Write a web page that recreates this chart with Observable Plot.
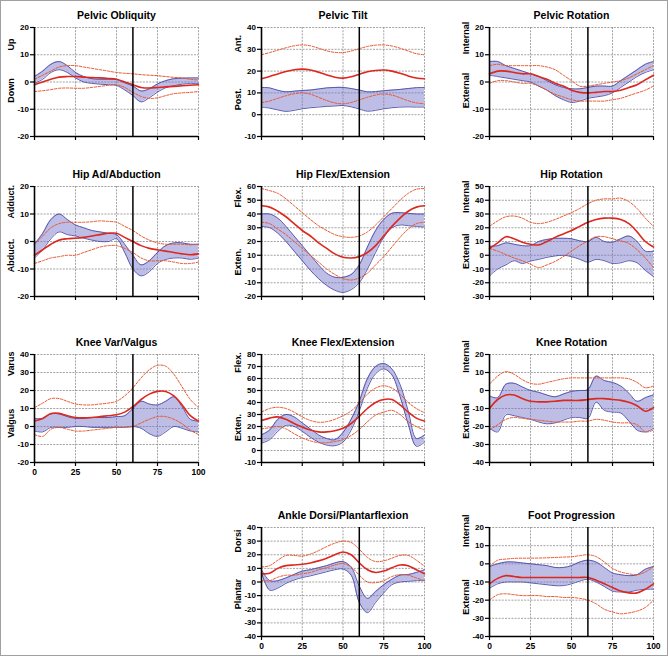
<!DOCTYPE html>
<html><head><meta charset="utf-8">
<script src="https://cdn.jsdelivr.net/npm/d3@7"></script>
<script src="https://cdn.jsdelivr.net/npm/@observablehq/plot@0.6"></script>
<style>
body{margin:0;background:#fff;}
#chart{position:relative;width:668px;height:656px;border:1px solid #a0a0a0;box-sizing:border-box;overflow:hidden;background:#fff;}
#chart svg{position:absolute;max-width:none;}
</style></head><body><div id="chart"></div>
<script>
// gait cycle (%)
const pct = [0,5,10,15,20,25,30,35,40,45,50,55,60,65,70,75,80,85,90,95,100];
const xTicks = [0,25,50,75,100];

// Pelvic Obliquity
const poHi   = [2,4,6.5,7.5,6,3.5,2,1.2,1,1,0.9,-0.3,-1.5,-3.3,-2.5,-0.7,0.5,1.2,1.4,1.5,1.5];
const poLo   = [-0.5,1,3.5,4.5,3.5,1.5,0,-0.5,-0.8,-1,-1.3,-2.9,-5,-7.3,-5.8,-3.7,-2.1,-1.3,-0.8,-0.6,-0.5];
const poMean = [-1,0,1,1.8,2,2,1.8,1.6,1.5,1.3,1,0,-1,-2,-2.2,-2,-1.8,-1.6,-1.4,-1.2,-1];
const poUp   = [1,2.5,4,5.5,6,6,5.5,5,4.5,4,3.5,3.2,3,2.7,2.5,2.3,2,1.7,1.5,1,0.7];
const poDn   = [-3.5,-3.2,-2.8,-2.3,-2.2,-2.3,-2.3,-2,-1.6,-1.2,-1,-2,-3.8,-5.3,-6,-5.8,-5,-4.3,-4,-3.8,-3.5];

// Pelvic Tilt
const ptHi   = [12.5,12.3,11.2,10.5,10.8,11.1,11.3,11.8,12.3,12.5,12.5,12,11.3,10.5,10.6,11,11.3,11.6,12,12.4,12.5];
const ptLo   = [3.5,3,2.2,1.5,2,2.7,3.2,3.5,3.8,4,4.2,3.6,2.6,1.6,2,2.7,3.2,3.5,3.6,3.5,3.5];
const ptMean = [16.5,17.5,18.7,19.8,20.6,20.9,20.5,19.5,18.2,17.2,16.8,17.4,18.6,19.7,20.3,20.5,20,19,17.8,16.8,16.5];
const ptUp   = [27.5,28.5,29.6,30.7,31.6,32,31.6,30.5,29.3,28.6,28.5,29.2,30.3,31.3,31.9,32,31.5,30.5,29.2,28,27.5];
const ptDn   = [5.5,6.3,7.5,8.7,9.6,10,9.4,8,6.5,5.4,5,5.6,6.8,8,9,9.5,9,7.8,6.4,5.4,5];

// Pelvic Rotation
const prHi   = [7.5,7.5,6,5,4,3,2,0.5,-1,-2,-2.5,-2.5,-2,-1.5,-1.5,-1.5,0.5,2.5,4.5,6.5,7.5];
const prLo   = [2.5,2,1.5,1,0.5,0,-1.5,-3,-5,-6.5,-7.5,-7,-6,-5.5,-5,-4,-2,0,2,3.5,4.5];
const prMean = [3,4,4,3.5,3,3,2,1,-0.5,-1.5,-3,-3.8,-4,-3.8,-3.5,-3.5,-3,-2,-1,0.8,2.5];
const prUp   = [6,6.5,6,6,6,6,6,5.5,4.5,2.5,0.5,-1.5,-1.5,-1,-0.5,0,0.5,1.5,3,4.5,6];
const prDn   = [-0.5,0.5,0.5,0,-0.5,-0.5,-1.5,-3,-4.5,-5.5,-6.5,-7,-7,-7,-7,-6.5,-6,-5,-4,-3,-1.5];

// Hip Ad/Abduction
const haHi   = [-1,3,8,10,8,6,5,4,3.5,3,2.5,-1,-5,-8.5,-7,-4,-1.5,-0.5,-0.5,-1,-1];
const haLo   = [-6,-3,1,3.5,2.5,2,1.2,0.5,0,0,1,-4,-10,-12.5,-11,-8,-6.5,-6,-6,-6.5,-6];
const haMean = [-5,-3,-1,0.5,1,1.2,1.5,2,2.5,3,3,1.5,0,-1.5,-2.5,-3,-3.5,-4,-4.5,-4.8,-4.5];
const haUp   = [-1,2,5,6.5,7,7,7,7.2,7.5,7.3,7,5.5,4,2,0.5,-0.5,-1,-1,-1,-1.2,-1];
const haDn   = [-8,-7,-6,-5.5,-5,-5,-4,-3,-2,-1.5,-1.5,-2.5,-4,-6,-7,-7,-7,-7.5,-8,-8,-7.5];

// Hip Flex/Extension
const hfHi   = [40,40,37,31,24,17,10,3,-3,-6,-6,-4,3,16,28,36,40.5,41,40.5,40,40];
const hfLo   = [31,30,26,20,13,6,-1,-7,-12,-15.5,-17,-15,-10,0,12,23,30,32,31.5,31,30.5];
const hfMean = [46,45,42,38,33,28,24,19,15,11,8.5,8,9,12,17,24,31,37,42,45,46];
const hfUp   = [58.5,57,55,51,46,41,36,31.5,28,25,23.5,23,24,27,32,38,44,50,55,58,58.5];
const hfDn   = [34,33,29,25,20,15,10,5,0,-4,-7,-8,-6.5,-3,3,9,16,23,29,33,34];

// Hip Rotation
const hrHi   = [6.5,7,9,8,7,7,10,11.5,12.3,12.3,12,10.5,10,13,10,9.5,12,14,10,3,3];
const hrLo   = [-15,-10,-7,-4,-6,-4.2,-3,-1.5,-0.5,0,-1,-3,-5,-3,-4,-6,-5.5,-4,-5.5,-11,-15.5];
const hrMean = [5,9,13.5,12,9.5,8,7.5,10,13,15.5,18,21,24,26,27,27,26,23,17,10,6];
const hrUp   = [21,25,28,28.5,27,24,23,24,26,28.5,31,34,37.5,40,41,41,41.5,39,34,27,21];
const hrDn   = [5,3,0.5,-2,-4,-6.5,-9,-7,-4.5,-1,3,7,10.5,13.5,13.5,12,10.5,8.5,4,-2,-9];

// Knee Var/Valgus
const kvHi   = [4.5,4.5,7,7,5.5,4.5,4.5,5,5,5,5.5,6,10,14,12.5,12,14,16.5,11,4,3];
const kvLo   = [-2.5,-3,-0.5,-0.5,-0.5,0,0,-0.5,-0.5,-0.5,-0.5,-0.5,0,-1,-4,-5.5,-3,0,-1,-2.5,-3];
const kvMean = [3,4.5,7.2,7.3,6,5,4.8,5,5.5,6,6.5,8,11,15,18,19.5,19.5,17,12,6,3];
const kvUp   = [10.5,13,15.5,15.5,14,12.5,12,12,12.5,13,14,17,21.5,27,31.5,34,33.5,29,22,15,10.5];
const kvDn   = [-4.5,-5.5,-1.5,-0.5,-1.5,-2.5,-2.5,-2,-1.5,-1,-0.5,-0.5,0,2,4,5.5,5.5,4,1.5,-2,-4.5];

// Knee Flex/Extension
const kfHi   = [13,17,26,30,28,23,18,13,10,9,15,26,41,60,70,72.5,68,55,33,10,13];
const kfLo   = [6,9,16,21,20,16,11,7,4.5,4,7,17,33,52,64,68,63,45,22,3.5,7];
const kfMean = [25,27,28,26,22.5,19.5,17,15.5,15.5,16.5,18.5,22.5,28.5,35,40,42.5,42.5,38,32,27,24.5];
const kfUp   = [32,35,36,35,32,28,25,23.5,24,26,29,33,39.5,47,52,54,52,47,40,35,31.5];
const kfDn   = [18,19,20,18,14,10.5,8,6.5,6.5,7.5,9,12.5,17.5,24,29.5,32,33.5,30,24,20,17];

// Knee Rotation
const krHi   = [-3,-4,3.5,4,2,0,-1,-2.5,-3.5,-2,-0.5,0,0.5,8,5.5,4.5,2.5,-1.5,-6,-4,-2.4];
const krLo   = [-21,-23,-13.5,-14,-15,-16,-17.5,-18.5,-18,-16.5,-15,-15,-15.5,-6.5,-11,-12,-12.5,-17,-22,-23,-21];
const krMean = [-10,-5,-2.5,-2.5,-4.5,-6,-6.3,-6.3,-6,-5.5,-5.5,-5.5,-5,-4.5,-4.5,-5,-5.5,-6.5,-8.5,-11.5,-9.5];
const krUp   = [3.5,8,10.5,9,6,4,3.5,4.5,5.5,6.5,7,7,7,7,7,7,7,6.5,4.5,1.5,2.5];
const krDn   = [-22,-19,-16,-15,-15.5,-16,-16.5,-17,-17.5,-17.5,-17.5,-17,-17,-16,-16.5,-17.5,-18,-18,-19,-23,-22];

// Ankle Dorsi/Plantarflexion
const akHi   = [9,1,1,3,5.5,8,9,10.5,12,14,15,11,-3,-12,-7,-2,2,5,5.5,7,9];
const akLo   = [7,-6,-4.5,-1,1.5,3.3,4.5,6,7.5,9,9.5,5,-15,-22.5,-15,-8,-2,0,0.5,1,1];
const akMean = [6,6.5,10,12,12.5,13,14,15.5,17.5,20,22,20,14,9,7,8,10.5,12.5,12,9,6];
const akUp   = [11,12,16,19.5,19.5,19,20.5,23,26,28.5,30,29,24,18,15,15.5,17.5,19.5,19.5,16,11.5];
const akDn   = [1,1,3.5,5,5,6,7,9,10.5,12.5,13.5,11,5,0,-0.5,1,4,5.5,5,3,1];

// Foot Progression
const fpHi   = [-1.5,0,1,1,0.5,0,-0.5,-1,-2,-2,-1,1,2,1,-2,-5,-6,-6.5,-6,-3,-1.5];
const fpLo   = [-13.5,-11,-10,-10,-10,-10.5,-11,-11.5,-12,-12,-11,-9.5,-8.5,-10,-12.5,-15,-15.5,-15.5,-14.5,-14,-14];
const fpMean = [-11,-8,-6.5,-7,-7.5,-7.5,-7.5,-7.5,-7.5,-7.5,-7.5,-7.5,-7.5,-9,-11,-13,-15,-16,-16,-14,-11];
const fpUp   = [-1.5,2,2.6,3,3.1,3.1,3.2,3.3,3.5,3.7,3.9,4.5,5,4,1,-2.5,-4.5,-5.5,-6,-4.5,-1.7];
const fpDn   = [-20,-17,-16.5,-17,-17.5,-17.5,-17.5,-18,-18,-18.5,-18.5,-19,-20,-22,-25,-26.5,-27.5,-27,-26,-24,-20];

const panels = [
  {title:"Pelvic Obliquity", col:0, row:0, y:[-20,20], labels:["Up","Down"], lf:[0.21,0.69], hi:poHi, lo:poLo, mean:poMean, up:poUp, dn:poDn},
  {title:"Pelvic Tilt", col:1, row:0, y:[-10,40], labels:["Ant.","Post."], lf:[0.23,0.76], hi:ptHi, lo:ptLo, mean:ptMean, up:ptUp, dn:ptDn},
  {title:"Pelvic Rotation", col:2, row:0, y:[-20,20], labels:["Internal","External"], lf:[0.245,0.74], hi:prHi, lo:prLo, mean:prMean, up:prUp, dn:prDn},
  {title:"Hip Ad/Abduction", col:0, row:1, y:[-20,20], labels:["Adduct.","Abduct."], lf:[0.29,0.78], hi:haHi, lo:haLo, mean:haMean, up:haUp, dn:haDn},
  {title:"Hip Flex/Extension", col:1, row:1, y:[-20,60], labels:["Flex.","Exten."], lf:[0.19,0.81], hi:hfHi, lo:hfLo, mean:hfMean, up:hfUp, dn:hfDn},
  {title:"Hip Rotation", col:2, row:1, y:[-30,50], labels:["Internal","External"], lf:[0.24,0.75], hi:hrHi, lo:hrLo, mean:hrMean, up:hrUp, dn:hrDn},
  {title:"Knee Var/Valgus", col:0, row:2, y:[-20,40], labels:["Varus","Valgus"], lf:[0.2,0.77], xlabels:true, hi:kvHi, lo:kvLo, mean:kvMean, up:kvUp, dn:kvDn},
  {title:"Knee Flex/Extension", col:1, row:2, y:[-10,80], labels:["Flex.","Exten."], lf:[0.17,0.8], hi:kfHi, lo:kfLo, mean:kfMean, up:kfUp, dn:kfDn},
  {title:"Knee Rotation", col:2, row:2, y:[-40,20], labels:["Internal","External"], lf:[0.17,0.78], hi:krHi, lo:krLo, mean:krMean, up:krUp, dn:krDn},
  {title:"Ankle Dorsi/Plantarflexion", col:1, row:3, y:[-40,40], labels:["Dorsi","Plantar"], lf:[0.23,0.75], xlabels:true, hi:akHi, lo:akLo, mean:akMean, up:akUp, dn:akDn},
  {title:"Foot Progression", col:2, row:3, y:[-40,20], labels:["Internal","External"], lf:[0.18,0.8], xlabels:true, hi:fpHi, lo:fpLo, mean:fpMean, up:fpUp, dn:fpDn}
];

const cols = [[34,198],[261,424],[489,653]];
const rows = [[27,136],[186,296],[354,462],[527,636]];
const mL = 40, mR = 8, mT = 30, mB = 16;
const font = "'Liberation Sans', Arial, Helvetica, sans-serif";
const curve = "catmull-rom";
const chart = document.getElementById("chart");

panels.forEach(p => {
  const [x1, x2] = cols[p.col], [y1, y2] = rows[p.row];
  const [ymin, ymax] = p.y;
  const span = ymax - ymin;
  const yt = d3.range(ymin, ymax + 0.1, 10);
  const data = pct.map((x, i) => ({x, lo: p.lo[i], hi: p.hi[i], mean: p.mean[i], up: p.up[i], dn: p.dn[i]}));
  const gridStyle = {stroke: "#8c8c8c", strokeWidth: 0.8, strokeDasharray: "2,1.2"};
  const dashStyle = {stroke: "#e8582e", strokeWidth: 1, strokeDasharray: "2.5,1.5", curve};
  const bandLine = {stroke: "#4b4ba6", strokeWidth: 0.9, curve};
  const svg = Plot.plot({
    width: x2 - x1 + mL + mR,
    height: y2 - y1 + mT + mB,
    marginLeft: mL, marginRight: mR, marginTop: mT, marginBottom: mB,
    x: {domain: [0, 100], label: null},
    y: {domain: [ymin, ymax], label: null},
    style: {fontFamily: font, fontSize: "8px", fontWeight: "bold", color: "#000", background: "transparent", overflow: "visible"},
    marks: [
      Plot.ruleY(yt.filter(v => v > ymin), gridStyle),
      Plot.ruleX([25, 50, 75, 100], gridStyle),
      Plot.areaY(data, {x: "x", y1: "lo", y2: "hi", fill: "#6c6cc8", fillOpacity: 0.45, curve}),
      Plot.line(data, {x: "x", y: "lo", ...bandLine}),
      Plot.line(data, {x: "x", y: "hi", ...bandLine}),
      Plot.line(data, {x: "x", y: "up", ...dashStyle}),
      Plot.line(data, {x: "x", y: "dn", ...dashStyle}),
      Plot.line(data, {x: "x", y: "mean", stroke: "#dc281e", strokeWidth: 1.6, curve}),
      Plot.ruleX([60], {stroke: "#000", strokeWidth: 1.5}),
      Plot.ruleX([0], {stroke: "#000", strokeWidth: 1.6}),
      Plot.ruleY([ymin], {stroke: "#000", strokeWidth: 1.6}),
      Plot.axisY({ticks: yt, label: null, tickSize: 4, tickPadding: 1.5, tickFormat: d => String(d), fontSize: 8, fontWeight: "bold", strokeWidth: 1.2}),
      Plot.axisX({ticks: xTicks, label: null, tickSize: 4, tickPadding: 2, tickFormat: p.xlabels ? (d => String(d)) : (() => ""), fontSize: 8.5, fontWeight: "bold", strokeWidth: 1.2}),
      Plot.text([p.title], {frameAnchor: "top", dy: -15.5, fontSize: 10.5, fontWeight: "bold"}),
      Plot.text([p.labels[0]], {y: () => ymax - p.lf[0] * span, frameAnchor: "left", dx: -23, rotate: -90, fontSize: 9, fontWeight: "bold"}),
      Plot.text([p.labels[1]], {y: () => ymax - p.lf[1] * span, frameAnchor: "left", dx: -23, rotate: -90, fontSize: 9, fontWeight: "bold"})
    ]
  });
  svg.style.left = (x1 - mL - 1) + "px";
  svg.style.top = (y1 - mT - 1) + "px";
  chart.appendChild(svg);
});
</script></body></html>
